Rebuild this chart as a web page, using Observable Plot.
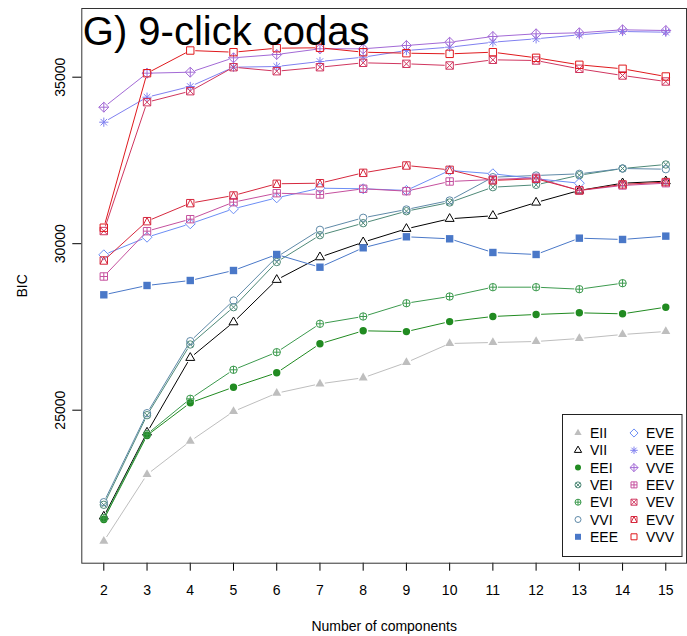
<!DOCTYPE html>
<html><head><meta charset="utf-8">
<script src="https://cdn.jsdelivr.net/npm/d3@7"></script>
<script src="https://cdn.jsdelivr.net/npm/@observablehq/plot@0.6"></script>
<style>
body{margin:0;background:#fff;}
#wrap{position:relative;width:687px;height:636px;font-family:"Liberation Sans",Arial,sans-serif;}
#legend{position:absolute;left:562px;top:414px;}
</style></head><body><div id="wrap"></div>
<script>
// ---- data ----
const components = [2,3,4,5,6,7,8,9,10,11,12,13,14,15];
const yTicks = [25000, 30000, 35000];
const models = ["EII","VII","EEI","VEI","EVI","VVI","EEE","VEE","EVE","VVE","EEV","VEV","EVV","VVV"];
const legendCol1 = ["EII","VII","EEI","VEI","EVI","VVI","EEE"];
const legendCol2 = ["EVE","VEE","VVE","EEV","VEV","EVV","VVV"];

const EII = [21066,23069,24069,24961,25511,25792,25973,26432,27003,27033,27063,27153,27273,27363];
const VII = [21808,24330,26573,27643,28916,29595,30045,30447,30748,30838,31237,31598,31817,31877];
const EEI = [21718,24240,25222,25691,26123,26994,27384,27360,27660,27814,27874,27924,27894,28093];
const VEI = [22159,24850,26973,28093,29450,30255,30616,30976,31237,31697,31767,32057,32258,32378];
const EVI = [21760,24280,25342,26213,26742,27595,27814,28213,28414,28694,28694,28634,28814,null];
const VVI = [22237,24910,27072,28294,29600,30417,30778,31027,31297,31997,32048,32098,32258,32237];
const EEE = [28465,28745,28895,29195,29676,29294,29877,30207,30147,29736,29676,30166,30127,30227];
const VEE = [33649,34399,34721,35300,35321,35471,35601,35802,35901,36051,36153,36273,36372,36351];
const EVE = [29666,30195,30598,31048,31378,31667,31649,31600,32200,32100,31950,31817,null,null];
const VVE = [34099,35120,35150,35582,35682,35853,35853,35952,36051,36222,36303,36333,36423,36402];
const EEV = [29015,30376,30736,31247,31517,31477,31649,31578,31868,31928,31980,31598,31748,31817];
const VEV = [30380,34249,34580,35300,35180,35300,35432,35402,35351,35522,35501,35252,35051,34871];
const EVV = [29495,30676,31217,31447,31799,31817,32128,32348,32218,31900,31950,31600,31780,31850];
const VVV = [30480,35120,35801,35751,35871,35883,35751,35721,35701,35751,35582,35372,35252,35021];

const modelColors = ["#BEBEBE","#000000","#218B21","#4F8A78","#3C9A4E","#5F8AA8","#4A78C8",
                     "#8080F0","#6C8EF5","#A36AD6","#C5509E","#D0365F","#D6283E","#E0191D"];
const modelShapes = [["triangle"],["triangle"],["circle"],["circle","timesC"],["circle","plusC"],["circle"],["square"],
                     ["asterisk"],["diamond"],["diamond","plusD"],["square","plusC"],["square","timesS"],["square","tri14"],["square"]];
const modelFilled = [true,false,true,false,false,false,true,false,false,false,false,false,false,false];

const seriesValues = {EII,VII,EEI,VEI,EVI,VVI,EEE,VEE,EVE,VVE,EEV,VEV,EVV,VVV};

// ---- symbols ----
const shapes = {
  square:(c,r)=>{c.moveTo(-r,-r);c.lineTo(r,-r);c.lineTo(r,r);c.lineTo(-r,r);c.closePath();},
  circle:(c,r)=>{c.moveTo(r,0);c.arc(0,0,r,0,2*Math.PI);},
  triangle:(c,r)=>{const t=r*1.4;c.moveTo(0,-t);c.lineTo(t*0.866,t*0.5);c.lineTo(-t*0.866,t*0.5);c.closePath();},
  diamond:(c,r)=>{const t=r*1.35;c.moveTo(0,-t);c.lineTo(t,0);c.lineTo(0,t);c.lineTo(-t,0);c.closePath();},
  plusC:(c,r)=>{c.moveTo(-r,0);c.lineTo(r,0);c.moveTo(0,-r);c.lineTo(0,r);},
  plusD:(c,r)=>{const t=r*1.35;c.moveTo(-t,0);c.lineTo(t,0);c.moveTo(0,-t);c.lineTo(0,t);},
  timesC:(c,r)=>{const t=r*0.707;c.moveTo(-t,-t);c.lineTo(t,t);c.moveTo(-t,t);c.lineTo(t,-t);},
  timesS:(c,r)=>{c.moveTo(-r,-r);c.lineTo(r,r);c.moveTo(-r,r);c.lineTo(r,-r);},
  tri14:(c,r)=>{c.moveTo(-r,r);c.lineTo(0,-r);c.lineTo(r,r);},
  asterisk:(c,r)=>{const a=r*1.25,t=r*0.88;c.moveTo(-a,0);c.lineTo(a,0);c.moveTo(0,-a);c.lineTo(0,a);
                   c.moveTo(-t,-t);c.lineTo(t,t);c.moveTo(-t,t);c.lineTo(t,-t);}
};
function makeSymbol(parts){
  return {draw(ctx,size){const r=Math.sqrt(size/Math.PI);for(const p of parts) shapes[p](ctx,r);}};
}
const modelSymbols = modelShapes.map(makeSymbol);

// ---- build marks ----
const marks = [];
models.forEach((m,k)=>{
  const vals = seriesValues[m];
  const pts = components.map((c,i)=>({x:c,y:vals[i]})).filter(d=>d.y!=null);
  const segs = [];
  for(let i=0;i<components.length-1;i++){
    if(vals[i]!=null && vals[i+1]!=null) segs.push({x1:components[i],y1:vals[i],x2:components[i+1],y2:vals[i+1]});
  }
  marks.push(Plot.arrow(segs,{x1:"x1",y1:"y1",x2:"x2",y2:"y2",stroke:modelColors[k],strokeWidth:1,
    headLength:0,insetStart:5,insetEnd:5,strokeLinecap:"butt"}));
  marks.push(Plot.dot(pts,{x:"x",y:"y",symbol:modelSymbols[k],r:3.7,
    fill: modelFilled[k]?modelColors[k]:"none",
    stroke: modelFilled[k]?"none":modelColors[k],strokeWidth:1}));
});

const chart = Plot.plot({
  width:687, height:636,
  marginLeft:81.3, marginRight:1, marginTop:8, marginBottom:73.3,
  x:{type:"linear",domain:[1.491,15.479],label:null},
  y:{type:"linear",domain:[20405,37063],label:null},
  style:{fontFamily:"'Liberation Sans', Arial, sans-serif",background:"white",color:"black"},
  marks:[
    Plot.axisX({ticks:components,tickSize:8,tickPadding:14,fontSize:14,label:null,tickFormat:d=>String(d)}),
    Plot.axisY({ticks:yTicks,tickSize:9,tickFormat:()=>"",label:null}),
    Plot.text(yTicks,{y:d=>d,text:d=>String(d),frameAnchor:"left",dx:-21,rotate:-90,
      textAnchor:"middle",lineAnchor:"middle",fontSize:14}),
    Plot.text(["Number of components"],{frameAnchor:"bottom",dy:63,lineAnchor:"middle",fontSize:14}),
    Plot.text(["BIC"],{frameAnchor:"left",dx:-59,rotate:-90,lineAnchor:"middle",textAnchor:"middle",fontSize:14}),
    ...marks,
    Plot.text(["G) 9-click codas"],{frameAnchor:"top-left",dx:1,dy:8,textAnchor:"start",lineAnchor:"top",fontSize:40}),
    Plot.frame({stroke:"#333",strokeWidth:1})
  ]
});
const wrap = document.getElementById("wrap");
wrap.appendChild(chart);

// ---- legend ----
const lw=121, lh=143, rowStep=17.3, row0=19;
const lsvg = d3.select(wrap).append("svg").attr("id","legend").attr("width",lw).attr("height",lh);
lsvg.append("rect").attr("x",0.5).attr("y",0.5).attr("width",lw-1.5).attr("height",lh-1)
  .attr("fill","white").attr("stroke","#222").attr("stroke-width",1);
function legendCol(list,sx,tx){
  list.forEach((m,i)=>{
    const k = models.indexOf(m);
    const y = row0 + i*rowStep;
    const p = d3.path(); modelSymbols[k].draw(p, 3*3*Math.PI);
    lsvg.append("path").attr("d",p.toString()).attr("transform",`translate(${sx},${y})`)
      .attr("fill",modelFilled[k]?modelColors[k]:"none")
      .attr("stroke",modelFilled[k]?"none":modelColors[k]).attr("stroke-width",1);
    lsvg.append("text").attr("x",tx).attr("y",y).attr("dy","0.36em")
      .attr("font-size",14).attr("font-family","'Liberation Sans', Arial, sans-serif").text(m);
  });
}
legendCol(legendCol1,16,28);
legendCol(legendCol2,72,84);
</script></body></html>
